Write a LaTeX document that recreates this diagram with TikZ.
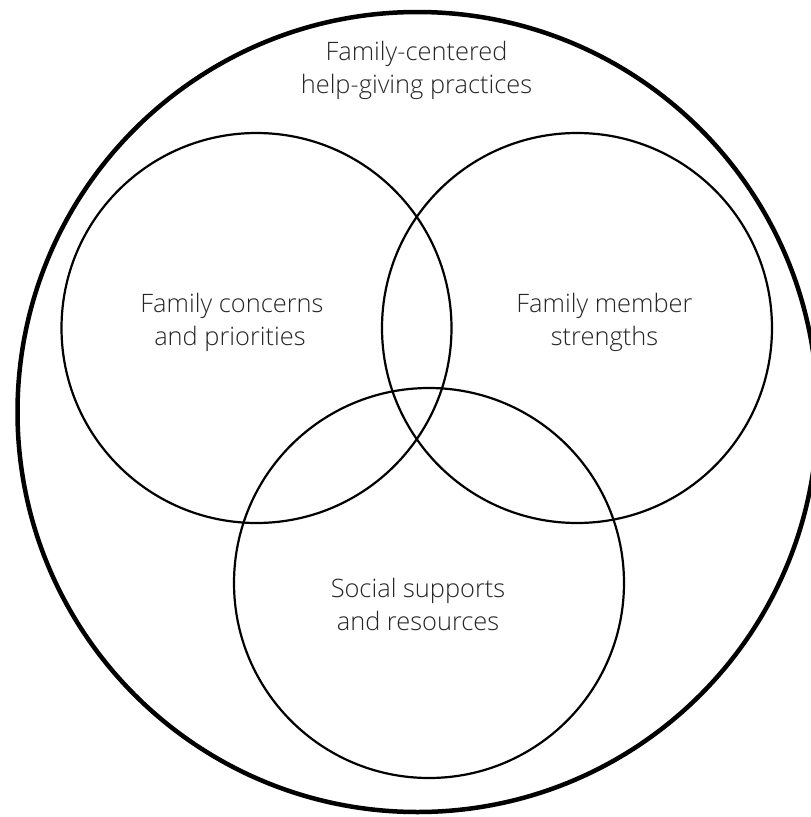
\documentclass[tikz,border=0pt]{standalone}
\usepackage{fontspec}
\IfFontExistsTF{Open Sans Light}{\setmainfont{Open Sans Light}}{\setmainfont{Open Sans}}
\begin{document}
\begin{tikzpicture}[x=1pt,y=-1pt,
  outer/.style={draw=black,line width=4.5pt},
  inner/.style={draw=black,line width=2.2pt},
  lbl/.style={anchor=base,inner sep=0pt,text=black!85,font=\fontsize{25.4}{33}\selectfont}]
\useasboundingbox (0,0) rectangle (811,817);
\clip (0,0) rectangle (811,817);
\draw[outer] (417.5,412) circle[radius=400];
\draw[inner] (256.5,328) circle[radius=195];
\draw[inner] (577,328) circle[radius=195];
\draw[inner] (429,583) circle[radius=195];
\node[lbl] (ta) at (416.5,60) {Family-centered};
\node[lbl] (tb) at (416.5,93) {help-giving practices};
\node[lbl] (la) at (232,312) {Family concerns};
\node[lbl] (lb) at (230,345) {and priorities};
\node[lbl] (ra) at (604.5,312) {Family member};
\node[lbl] (rb) at (604.5,345) {strengths};
\node[lbl] (ba) at (418,597) {Social supports};
\node[lbl] (bb) at (418,630) {and resources};
\end{tikzpicture}
\end{document}
